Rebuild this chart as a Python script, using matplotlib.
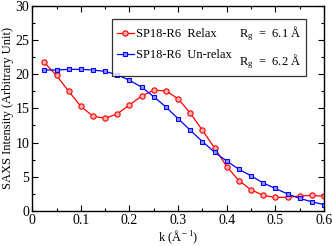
import matplotlib
matplotlib.use("Agg")
import matplotlib.pyplot as plt
from matplotlib.lines import Line2D

plt.rcParams['font.family'] = ['Liberation Serif', 'DejaVu Serif']
plt.rcParams['mathtext.fontset'] = 'custom'
plt.rcParams['mathtext.rm'] = 'Liberation Serif'
plt.rcParams['mathtext.it'] = 'Liberation Serif:italic'

# data
k = [0.025, 0.05, 0.075, 0.1, 0.125, 0.15, 0.175, 0.2, 0.225, 0.25, 0.275, 0.3,
     0.325, 0.35, 0.375, 0.4, 0.425, 0.45, 0.475, 0.5, 0.525, 0.55, 0.575, 0.6]
relax = [21.7, 19.8, 17.5, 15.3, 13.85, 13.55, 14.2, 15.5, 16.8, 17.65, 17.55, 16.4,
         14.3, 11.8, 9.2, 6.5, 4.45, 3.1, 2.3, 2.0, 2.0, 2.2, 2.3, 2.15]
unrelax = [20.6, 20.6, 20.7, 20.7, 20.6, 20.4, 19.9, 19.1, 18.1, 16.7, 15.2, 13.5,
           11.8, 10.15, 8.6, 7.3, 6.1, 5.15, 4.1, 3.3, 2.5, 1.85, 1.35, 0.95]
names = ['SP18-R6  Relax', 'SP18-R6  Un-relax']
rg_labels = [r'R$_{\rm g}$  =  6.1 Å', r'R$_{\rm g}$  =  6.2 Å']

fig = plt.figure(figsize=(3.32, 2.46), dpi=100)
ax = fig.add_axes([0.097, 0.142, 0.879, 0.835])

l1, = ax.plot(k, relax, '-o', color='#ff0000', lw=0.9, ms=3.8,
              mfc='#ffb0b0', mec='#ff0000', mew=0.8)
l2, = ax.plot(k, unrelax, '-s', color='#0000ff', lw=0.9, ms=3.0,
              mfc='#9090ff', mec='#0000ff', mew=0.8)

ax.set_xlim(0, 0.6)
ax.set_ylim(0, 30)
ax.set_xticks([0, 0.1, 0.2, 0.3, 0.4, 0.5, 0.6])
ax.set_xticklabels(['0', '0.1', '0.2', '0.3', '0.4', '0.5', '0.6'])
ax.set_xticks([0.05, 0.15, 0.25, 0.35, 0.45, 0.55], minor=True)
ax.set_yticks([0, 5, 10, 15, 20, 25, 30])
ax.set_yticks([2.5, 7.5, 12.5, 17.5, 22.5, 27.5], minor=True)
ax.tick_params(which='both', direction='in', top=True, right=True, labelsize=10, pad=2)
ax.tick_params(which='major', length=4, width=0.8)
ax.tick_params(which='minor', length=2, width=0.8)
for s in ax.spines.values():
    s.set_linewidth(1.0)

ax.set_xlabel(r'k (Å$^{\rm -1}$)', fontsize=9, labelpad=1)
ax.set_ylabel('SAXS Intensity (Arbitrary Unit)', fontsize=9, labelpad=1)

blank = Line2D([], [], linestyle='none')
leg = ax.legend([l1, l2, blank, blank], names + rg_labels, ncol=2,
                loc='upper left', bbox_to_anchor=(0.273, 0.935),
                fontsize=9, frameon=True, fancybox=False, edgecolor='black',
                handlelength=1.35, handletextpad=0.2, columnspacing=-1.0,
                borderpad=0.4, labelspacing=0.75, borderaxespad=0)
leg.get_frame().set_linewidth(0.9)

fig.savefig('out.png', dpi=100)
